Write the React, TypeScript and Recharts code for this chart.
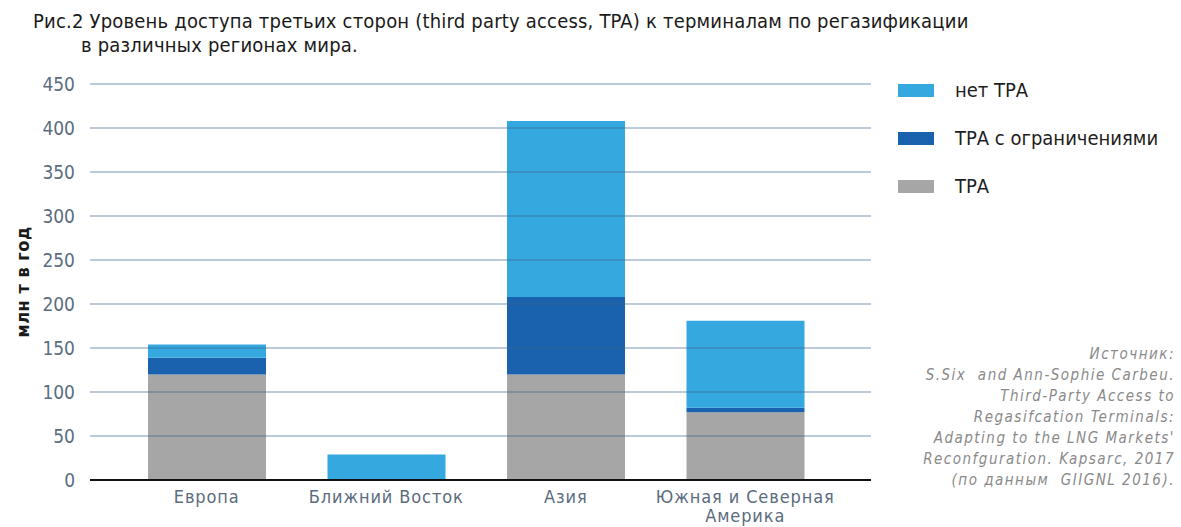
import React from "react";
import { BarChart, Bar, XAxis, YAxis, ReferenceLine } from "recharts";

const categories = ["Европа", "Ближний Восток", "Азия", "Южная и Северная\nАмерика"];
const tpaValues = [120, 0, 120, 77];
const limitedValues = [19, 0, 88, 5];
const noTpaValues = [15, 29, 200, 99];
const yTicks = [0, 50, 100, 150, 200, 250, 300, 350, 400, 450];

const seriesNames = { tpa: "ТРА", limited: "ТРА с ограничениями", none: "нет ТРА" };
const colors = { tpa: "#a5a6a5", limited: "#1a62ad", none: "#35a8df" };

const titleLines = [
  "Рис.2 Уровень доступа третьих сторон (third party access, TPA) к терминалам по регазификации",
  "в различных регионах мира.",
];
const sourceLines = [
  "Источник:",
  "S.Six  and Ann-Sophie Carbeu.",
  "Third-Party Access to",
  "Regasifcation Terminals:",
  "Adapting to the LNG Markets'",
  "Reconfguration. Kapsarc, 2017",
  "(по данным  GIIGNL 2016).",
];

const data = categories.map((c, i) => ({
  name: c,
  tpa: tpaValues[i],
  limited: limitedValues[i],
  none: noTpaValues[i],
}));

const FONT = "'DejaVu Sans Condensed', 'DejaVu Sans', sans-serif";

const XTick = (props: any) => {
  const { x, y, payload } = props;
  const lines = String(payload.value).split("\n");
  return (
    <text x={x} y={y} textAnchor="middle" fill="#5a6c7e" fontSize={18} letterSpacing={0.9} fontFamily={FONT}>
      {lines.map((l, i) => (
        <tspan key={i} x={x} dy={i === 0 ? 15 : 19}>
          {l}
        </tspan>
      ))}
    </text>
  );
};

const legendItems = [
  { key: "none", label: seriesNames.none, color: colors.none },
  { key: "limited", label: seriesNames.limited, color: colors.limited },
  { key: "tpa", label: seriesNames.tpa, color: colors.tpa },
];

export default function App() {
  return (
    <div style={{ position: "absolute", left: 0, top: 0, width: 1181, height: 527, background: "#fff", overflow: "hidden" }}>
      <BarChart
        width={1181}
        height={527}
        data={data}
        margin={{ top: 84, right: 310, bottom: 0, left: 0 }}
        barSize={118}
        style={{ position: "absolute", left: 0, top: 0 }}
      >
        <XAxis
          dataKey="name"
          height={47}
          tick={<XTick />}
          tickLine={false}
          axisLine={{ stroke: "#111", strokeWidth: 2 }}
          padding={{ left: 27, right: 36 }}
          interval={0}
        />
        <YAxis
          width={90}
          domain={[0, 450]}
          ticks={yTicks}
          interval={0}
          axisLine={false}
          tickLine={false}
          tickSize={0}
          tickMargin={15}
          tick={{ fill: "#5b6d7f", fontSize: 19, fontFamily: FONT }}
        />
        <Bar dataKey="tpa" stackId="a" fill={colors.tpa} name={seriesNames.tpa} isAnimationActive={false} />
        <Bar dataKey="limited" stackId="a" fill={colors.limited} name={seriesNames.limited} isAnimationActive={false} />
        <Bar dataKey="none" stackId="a" fill={colors.none} name={seriesNames.none} isAnimationActive={false} />
        {yTicks.slice(1).map((t) => (
          <ReferenceLine key={t} y={t} stroke="rgba(60,100,140,0.45)" strokeWidth={1.5} />
        ))}
      </BarChart>
      <div style={{ position: "absolute", left: 33, top: 9, fontFamily: FONT, fontSize: 20, letterSpacing: 0.2, color: "#1a1a1a", lineHeight: "24px", whiteSpace: "nowrap" }}>
        <div>{titleLines[0]}</div>
        <div style={{ paddingLeft: 48 }}>{titleLines[1]}</div>
      </div>
      <div
        style={{
          position: "absolute",
          left: 22,
          top: 282,
          transform: "translate(-50%, -50%) rotate(-90deg)",
          fontFamily: FONT,
          fontSize: 18,
          fontWeight: 600,
          letterSpacing: 0.5,
          color: "#1a1a1a",
          whiteSpace: "nowrap",
        }}
      >
        млн т в год
      </div>
      <div style={{ position: "absolute", left: 898, top: 66, fontFamily: FONT }}>
        {legendItems.map((it) => (
          <div key={it.key} style={{ display: "flex", alignItems: "center", height: 48 }}>
            <div style={{ width: 36, height: 13, background: it.color, marginRight: 21 }} />
            <span style={{ fontSize: 20, color: "#1e1e1e" }}>{it.label}</span>
          </div>
        ))}
      </div>
      <div
        style={{
          position: "absolute",
          right: 6,
          top: 344,
          textAlign: "right",
          fontFamily: FONT,
          fontStyle: "italic",
          fontSize: 15,
          lineHeight: "21px",
          letterSpacing: 1.5,
          color: "#8a8a8a",
          whiteSpace: "pre",
        }}
      >
        {sourceLines.map((l, i) => (
          <div key={i}>{l}</div>
        ))}
      </div>
    </div>
  );
}
